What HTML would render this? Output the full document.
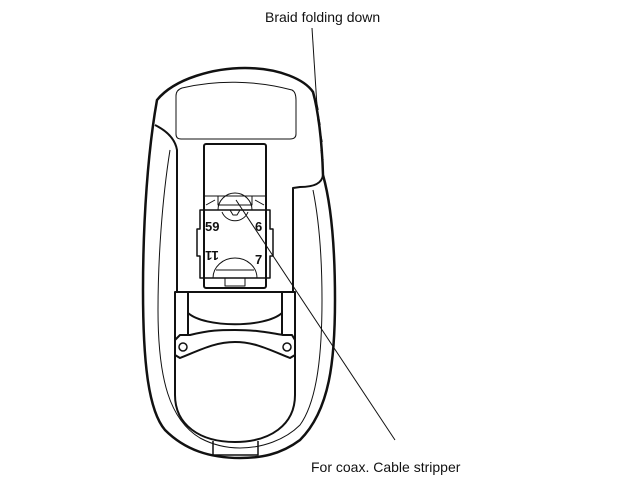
<!DOCTYPE html>
<html><head><style>body{margin:0;background:#fff}svg{display:block}text{font-family:"Liberation Sans",sans-serif;font-size:14px;fill:#111;stroke:none}</style></head>
<body><svg width="640" height="480" viewBox="0 0 640 480" fill="none" stroke="#111" stroke-linejoin="round">
<path d="M157,100 C175,78 215,68 245,68 C280,68 305,80 313,92 C318,110 322,140 323,175 C330,200 335,240 335,300 C335,360 330,410 300,440 C280,455 260,458 240,458 C210,458 185,450 165,430 C148,410 143,360 143,290 C143,220 148,150 157,100 Z" stroke-width="2.5"/>
<path d="M170,150 C162,200 158,260 158,310 C158,380 170,420 200,438 C215,446 228,448 240,448 C262,448 285,440 300,425 C318,400 322,350 322,300 C322,250 318,215 313,190" stroke-width="1"/>
<path d="M155,125 C165,130 175,138 177,150 L177,292" stroke-width="2"/>
<path d="M323,175 C322,183 315,187 300,187 L293,188 L293,292" stroke-width="2"/>
<path d="M316,100 L318,110 M318,115 L320,125 M320,132 L322,142 M321,150 L323,160" stroke-width="1.5"/>
<path d="M182,88 C215,80 255,80 292,90 Q296,92 296,100 L296,134 Q296,139 290,139 L181,139 Q176,139 176,134 L176,96 Q176,90 182,88 Z" stroke-width="1"/>
<rect x="204" y="144" width="62" height="144" rx="2" stroke-width="2"/>
<path d="M204,196 L266,196 M218,196 L218,205 L252,205 L252,196 M206,205 L215,200 M264,205 L255,200" stroke-width="1"/>
<path d="M200,210 L270,210 L270,229 L273,229 L273,256 L270,256 L270,278 L200,278 L200,256 L197,256 L197,229 L200,229 Z" stroke-width="1.5"/>
<path d="M218,210 A17,17 0 0 1 252,210 M222,212 A14,14 0 0 0 248,212 M230,210 L233,215 L237,215 L240,210" stroke-width="1"/>
<path d="M213,278 A22,20 0 0 1 257,278 M216,270 L254,270" stroke-width="1"/>
<rect x="225" y="278" width="20" height="8" stroke-width="1"/>
<text x="205" y="231" style="font-size:13px;font-weight:bold">59</text>
<text x="255" y="231" style="font-size:13px;font-weight:bold">6</text>
<text x="212" y="261" text-anchor="middle" style="font-size:13px;font-weight:bold" transform="rotate(180 212 256)">11</text>
<text x="255" y="264" style="font-size:13px;font-weight:bold">7</text>
<path d="M175,292 L295,292 L295,395 C295,425 270,442 235,442 C200,442 175,425 175,395 Z" stroke-width="2"/>
<path d="M188,292 L188,335 M282,292 L282,335" stroke-width="2"/>
<path d="M188,313 C205,328 265,328 282,313" stroke-width="2"/>
<path d="M180,335 L190,335 C210,330 220,330 235,330 C255,330 265,332 283,335 L292,335 L295,340 L295,355 L290,358 C270,350 255,342 235,342 C215,342 200,350 180,358 L175,355 L175,340 Z" stroke-width="2"/>
<circle cx="183" cy="347" r="4" stroke-width="1.5"/>
<circle cx="287" cy="347" r="4" stroke-width="1.5"/>
<path d="M213,441 L213,455 L258,455 L258,441" stroke-width="1.5"/>
<path d="M312,28 L318,122" stroke-width="1"/>
<path d="M236,200 L395,440" stroke-width="1"/>
<text x="265" y="22">Braid folding down</text>
<text x="311" y="472">For coax. Cable stripper</text>
</svg></body></html>
